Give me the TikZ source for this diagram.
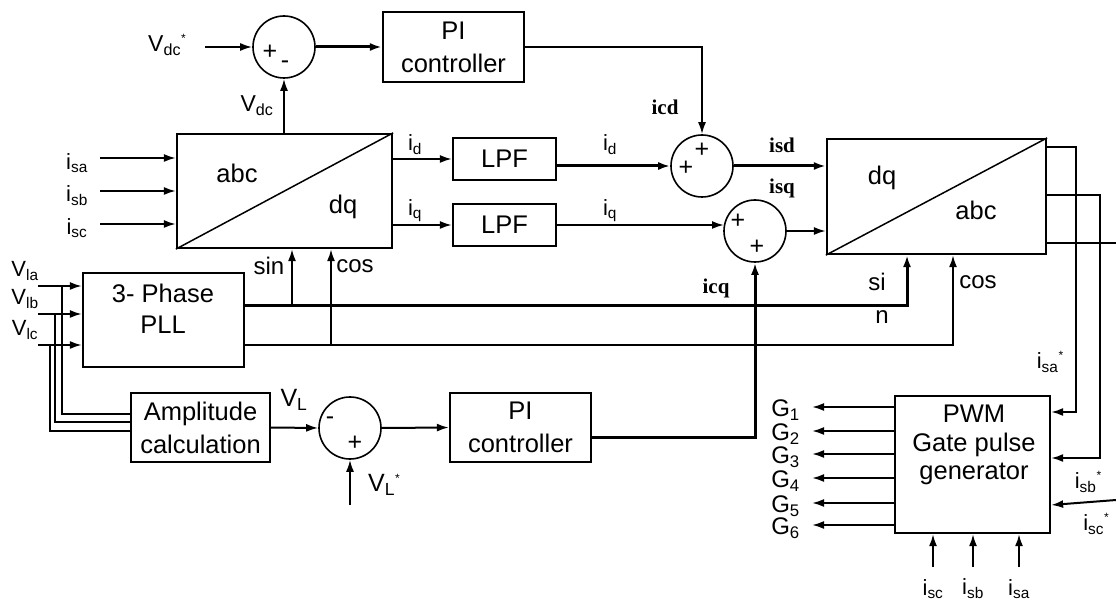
\documentclass[tikz,border=0pt]{standalone}
\usepackage{fontspec}
\setmainfont{Liberation Sans}
\newfontfamily\serifbold{Liberation Serif}
\usetikzlibrary{arrows.meta,calc}
\begin{document}
\begin{tikzpicture}[x=1pt,y=-1pt,
  blk/.style={draw,line width=2.2pt,inner sep=0pt,align=center,font=\fontsize{25.5}{33}\selectfont},
  btxt/.style={inner sep=0pt,align=center,font=\fontsize{25.5}{31}\selectfont},
  sumc/.style={draw,circle,line width=1.6pt,minimum size=62pt,inner sep=0pt},
  conn/.style={line width=2pt},
  thk/.style={line width=3pt},
  arr/.style={-{Latex[length=12pt,width=8pt]}},
  lbl/.style={font=\fontsize{22}{24}\selectfont,inner sep=0pt},
  glbl/.style={font=\fontsize{24}{24}\selectfont,inner sep=0pt,anchor=east},
  sgn/.style={font=\fontsize{25}{26}\selectfont,inner sep=0pt},
  bl/.style={font=\serifbold\bfseries\fontsize{21}{22}\selectfont,inner sep=0pt},
]
\useasboundingbox[fill=white] (0,0) rectangle (1116,601);

% ---------- blocks ----------
\node[blk,minimum width=215pt,minimum height=114pt] (b1) at (284.5,191) {};
\draw[line width=1.5pt] (b1.south west) -- (b1.north east);
\node[btxt] (b1abc) at (237,173) {abc};
\node[btxt] (b1dq) at (343,207) {dq};

\node[blk,minimum width=141pt,minimum height=70pt] (pi1) at (453.5,47) {PI\\controller};
\node[blk,minimum width=103pt,minimum height=42pt] (lpf1) at (504.5,159) {LPF};
\node[blk,minimum width=103pt,minimum height=42pt] (lpf2) at (504.5,225) {LPF};

\node[blk,minimum width=219pt,minimum height=115pt] (b2) at (936.5,196.5) {};
\draw[line width=1.5pt] (b2.south west) -- (b2.north east);
\node[btxt] (b2dq) at (882,178) {dq};
\node[btxt] (b2abc) at (976,210) {abc};

\node[blk,minimum width=161pt,minimum height=94pt] (pll) at (163.5,320) {};
\node[btxt] (pllt) at (163,309) {3- Phase\\PLL};

\node[blk,minimum width=139pt,minimum height=69pt] (amp) at (200.5,427.5) {Amplitude\\calculation};
\node[blk,minimum width=141pt,minimum height=69pt] (pi2) at (520.5,427.5) {PI\\controller};

\node[blk,minimum width=155pt,minimum height=137pt] (pwm) at (972.5,464.5) {};
\node[btxt,font=\fontsize{25.5}{28.5}\selectfont] (pwmt) at (974,445) {PWM\\Gate pulse\\generator};

% ---------- summing junctions ----------
\node[sumc] (s1) at (284,47) {};
\node[sgn] (s1p) at (270,52) {+};
\node[sgn] (s1m) at (285,65) {-};
\node[sumc] (s2) at (702,166) {};
\node[sgn] (s2p1) at (702,150) {+};
\node[sgn] (s2p2) at (686,168) {+};
\node[sumc] (s3) at (755,231) {};
\node[sgn] (s3p1) at (738,221) {+};
\node[sgn] (s3p2) at (757,247) {+};
\node[sumc] (s4) at (350,428) {};
\node[sgn] (s4m) at (330,421) {-};
\node[sgn] (s4p) at (355,443) {+};

% ---------- DC loop ----------
\coordinate (vdcin) at (205,47);
\draw[conn,arr] (vdcin) -- (s1.west);
\node[lbl,font=\fontsize{23}{24}\selectfont] (vdcs) at (167,45) {V\textsubscript{dc}\raisebox{9pt}{\fontsize{12}{12}\selectfont*}};
\draw[conn,arr] (b1.north -| s1) -- (s1.south);
\node[lbl,font=\fontsize{23}{24}\selectfont] (vdcl) at (257,106) {V\textsubscript{dc}};
\draw[thk,arr] (s1.east) -- (pi1.west);
\draw[conn,arr] (pi1.east) -| (s2.north);
\node[bl] (icd) at (665,107) {icd};

% ---------- current inputs ----------
\coordinate (isa) at (100,158);
\coordinate (isb) at (100,191);
\coordinate (isc) at (100,224);
\draw[conn,arr] (isa) -- (isa -| b1.west);
\draw[conn,arr] (isb) -- (isb -| b1.west);
\draw[conn,arr] (isc) -- (isc -| b1.west);
\node[lbl] (lisa) at (77,163) {i\textsubscript{sa}};
\node[lbl] (lisb) at (77,196) {i\textsubscript{sb}};
\node[lbl] (lisc) at (77,228) {i\textsubscript{sc}};

% ---------- d/q paths ----------
\draw[conn,arr] (b1.east |- lpf1) -- (lpf1.west);
\draw[conn,arr] (b1.east |- lpf2) -- (lpf2.west);
\node[lbl] (lid1) at (415,145) {i\textsubscript{d}};
\node[lbl] (liq1) at (415,211) {i\textsubscript{q}};
\draw[thk,arr] (lpf1.east |- s2) -- (s2.west);
\coordinate (s3in) at (724,225);
\draw[conn,arr] (lpf2.east |- s3in) -- (s3in);
\node[lbl] (lid2) at (610,145) {i\textsubscript{d}};
\node[lbl] (liq2) at (610,211) {i\textsubscript{q}};
\draw[thk,arr] (s2.east) -- (s2.east -| b2.west);
\draw[conn,arr] (s3.east) -- (s3.east -| b2.west);
\node[bl] (isdl) at (782,145) {isd};
\node[bl] (isql) at (782,188) {isq};

% ---------- PLL ----------
\coordinate (va) at (38,286);
\coordinate (vb) at (38,314);
\coordinate (vc) at (38,345);
\draw[conn,arr] (va) -- (va -| pll.west);
\draw[conn,arr] (vb) -- (vb -| pll.west);
\draw[conn,arr] (vc) -- (vc -| pll.west);
\node[lbl] (lva) at (25,271) {V\textsubscript{la}};
\node[lbl] (lvb) at (25,299) {V\textsubscript{lb}};
\node[lbl] (lvc) at (25,330) {V\textsubscript{lc}};
\coordinate (ja) at (62,286); \coordinate (ma) at (62,414);
\coordinate (jb) at (55,314); \coordinate (mb) at (55,422);
\coordinate (jc) at (50,345); \coordinate (mc) at (50,431);
\draw[conn] (ja) -- (ma) -- (ma -| amp.west);
\draw[conn] (jb) -- (mb) -- (mb -| amp.west);
\draw[conn] (jc) -- (mc) -- (mc -| amp.west);

\coordinate (p1) at (907,306);
\coordinate (p2) at (953,345);
\draw[thk,arr] (pll.east |- p1) -- (p1) -- (p1 |- b2.south);
\draw[conn,arr] (pll.east |- p2) -- (p2) -- (p2 |- b2.south);
\coordinate (q1) at (292,306);
\coordinate (q2) at (331,345);
\draw[conn,arr] (q1) -- (q1 |- b1.south);
\draw[conn,arr] (q2) -- (q2 |- b1.south);
\node[lbl,font=\fontsize{24}{24}\selectfont] (lsin1) at (269,266) {sin};
\node[lbl,font=\fontsize{24}{24}\selectfont] (lcos1) at (355,266) {cos};
\node[lbl,font=\fontsize{24}{24}\selectfont] (lsi2) at (877,282) {si};
\node[lbl,font=\fontsize{24}{24}\selectfont] (ln2) at (882,317) {n};
\node[lbl,font=\fontsize{24}{24}\selectfont] (lcos2) at (978,282) {cos};

% ---------- amplitude loop ----------
\draw[conn,arr] (amp.east) -- (s4.west);
\node[lbl,font=\fontsize{25}{24}\selectfont] (lvl) at (294,400) {V\textsubscript{L}};
\coordinate (vls) at (350,505);
\draw[conn,arr] (vls) -- (s4.south);
\node[lbl,font=\fontsize{25}{24}\selectfont] (lvls) at (384,485) {V\textsubscript{L}\raisebox{9pt}{\fontsize{12}{12}\selectfont*}};
\draw[conn,arr] (s4.east) -- (pi2.west);
\coordinate (c3) at (755,437);
\draw[thk,arr] (pi2.east |- c3) -- (c3) -- (s3.south);
\node[bl] (icq) at (716,288) {icq};

% ---------- abc references to PWM ----------
\coordinate (r1) at (1076,147); \coordinate (k1) at (1076,412);
\coordinate (r2) at (1100,195); \coordinate (k2) at (1100,458);
\coordinate (r3) at (1116,243);
\coordinate (r4) at (1116,500); \coordinate (k4) at (1050,505);
\draw[conn,arr] (b2.east |- r1) -- (r1) -- (k1) -- (k1 -| pwm.east);
\draw[conn,arr] (b2.east |- r2) -- (r2) -- (k2) -- (k2 -| pwm.east);
\draw[conn] (b2.east |- r3) -- (r3);
\draw[conn,arr] (r4) -- (pwm.east |- k4);
\node[lbl] (lisas) at (1050,362) {i\textsubscript{sa}\raisebox{9pt}{\fontsize{12}{12}\selectfont*}};
\node[lbl] (lisbs) at (1088,482) {i\textsubscript{sb}\raisebox{9pt}{\fontsize{12}{12}\selectfont*}};
\node[lbl] (liscs) at (1096,524) {i\textsubscript{sc}\raisebox{9pt}{\fontsize{12}{12}\selectfont*}};

% ---------- gate outputs ----------
\foreach \yy/\g in {407/1,431/2,454/3,478/4,503/5,525/6}{
  \coordinate (g\g) at (812,\yy);
  \draw[conn,arr] (pwm.west |- g\g) -- (g\g);
  \node[glbl] (lg\g) at (800,\yy+3) {G\textsubscript{\g}};
}

% ---------- bottom inputs ----------
\coordinate (bsc) at (933,567);
\coordinate (bsb) at (973,567);
\coordinate (bsa) at (1019,567);
\draw[conn,arr] (bsc) -- (bsc |- pwm.south);
\draw[conn,arr] (bsb) -- (bsb |- pwm.south);
\draw[conn,arr] (bsa) -- (bsa |- pwm.south);
\node[lbl] (lbsc) at (933,589) {i\textsubscript{sc}};
\node[lbl] (lbsb) at (973,589) {i\textsubscript{sb}};
\node[lbl] (lbsa) at (1019,589) {i\textsubscript{sa}};
\end{tikzpicture}
\end{document}
